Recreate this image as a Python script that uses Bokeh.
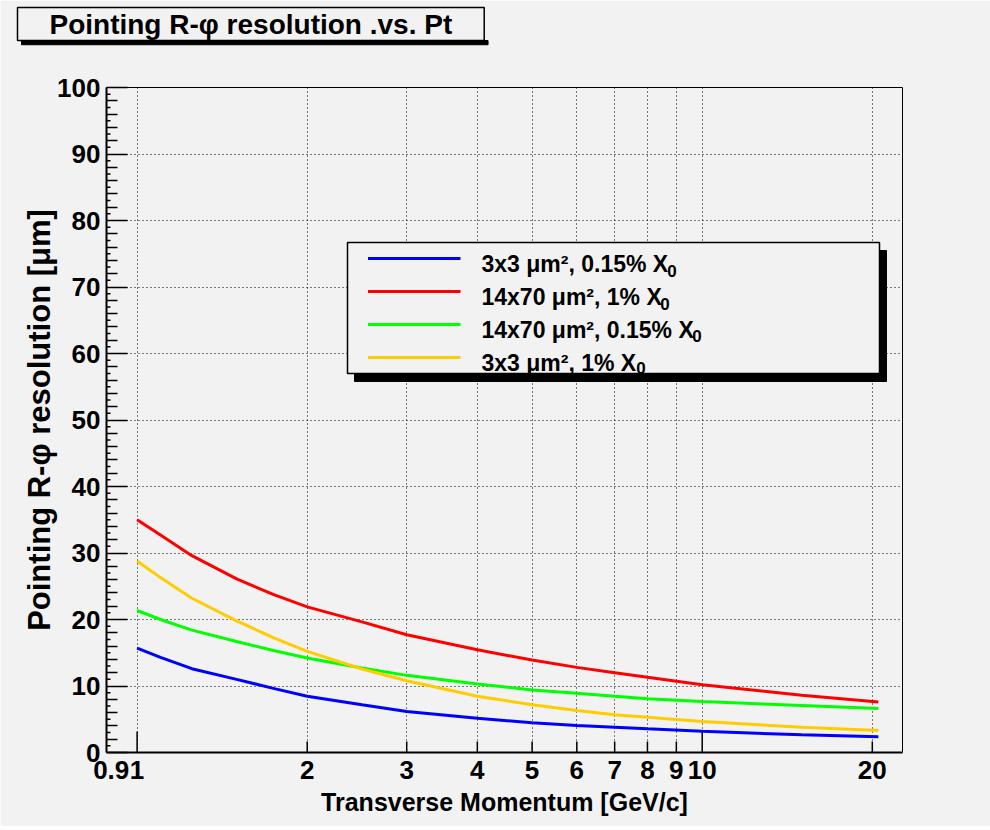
import math
from bokeh.plotting import figure
from bokeh.models import FixedTicker, Label, BoxAnnotation, ColumnDataSource, Title
from bokeh.embed import file_html
from bokeh.resources import INLINE

# ---------------- data ----------------
pt = [1.0, 1.1, 1.25, 1.5, 1.75, 2.0, 2.5, 3.0, 4.0, 5.0, 6.0, 7.0, 8.0, 10.0, 15.0, 20.5]
res_blue = [15.7, 14.3, 12.6, 11.0, 9.6, 8.47, 7.17, 6.17, 5.16, 4.46, 4.06, 3.8, 3.56, 3.2, 2.66, 2.35]
res_red = [35.0, 32.7, 29.6, 26.1, 23.7, 21.9, 19.65, 17.7, 15.45, 13.9, 12.8, 12.0, 11.3, 10.2, 8.6, 7.6]
res_green = [21.35, 20.0, 18.4, 16.7, 15.3, 14.2, 12.7, 11.6, 10.3, 9.4, 8.9, 8.45, 8.1, 7.67, 7.07, 6.6]
res_yellow = [28.8, 26.3, 23.2, 19.8, 17.2, 15.2, 12.55, 10.8, 8.47, 7.17, 6.3, 5.67, 5.3, 4.66, 3.8, 3.3]

series_names = ["3x3 \u03bcm\u00b2, 0.15% X", "14x70 \u03bcm\u00b2, 1% X",
                "14x70 \u03bcm\u00b2, 0.15% X", "3x3 \u03bcm\u00b2, 1% X"]
series_values = [res_blue, res_red, res_green, res_yellow]
series_colors = ["#0000ff", "#ff0000", "#00ff00", "#ffcc00"]

x_tick_values = [0.9, 1, 2, 3, 4, 5, 6, 7, 8, 9, 10, 20]
x_tick_labels = ["0.9", "1", "2", "3", "4", "5", "6", "7", "8", "9", "10", "20"]
x_long_ticks = [1, 10]
x_short_ticks = [2, 3, 4, 5, 6, 7, 8, 9, 20]
y_tick_values = [0, 10, 20, 30, 40, 50, 60, 70, 80, 90, 100]
y_minor_values = [v for v in range(2, 100, 2) if v % 10 != 0]
y_tiny_values = list(range(1, 100, 2))

title_text = "Pointing R-\u03c6 resolution .vs. Pt"
x_title = "Transverse Momentum [GeV/c]"
y_title = "Pointing R-\u03c6 resolution [\u03bcm]"

# ---------------- layout (page pixels; the canvas starts at the page corner) ----------------
W, H = 990, 826
FL, FR, FT, FB = 106, 902, 87, 752      # frame edges
X1PX, DEC = 136.6, 565.1                # x of pt=1, pixels per decade

def X(px):
    return 10 ** ((px - X1PX) / DEC)

def Y(py):
    return (FB - py) * 100.0 / (FB - FT)

BG = "#f2f2f2"
SANS = "Liberation Sans"

p = figure(width=W, height=H, x_axis_type="log", title=title_text,
           x_range=(X(FL), X(FR)), y_range=(0, 100),
           output_backend="svg", toolbar_location=None,
           min_border_left=FL, min_border_right=W - FR,
           min_border_top=FT, min_border_bottom=H - FB)
p.background_fill_color = BG
p.border_fill_color = BG
p.outline_line_color = "black"
p.outline_line_width = 1

def set_pad(obj, l, r, t_, b):
    try:
        obj.padding = dict(left=l, right=r, top=t_, bottom=b)
    except Exception:
        obj.padding = (t_, l)

# invisible spacer between the frame and the title box
p.add_layout(Title(text=" ", text_font_size="10px", standoff=28), "above")
# thin black bar under the title box (its drop shadow)
bar = Title(text=" ", text_font_size="2px", standoff=0, align="left", vertical_align="top",
            offset=21 - FL, background_fill_color="black", border_line_color="black")
set_pad(bar, 233, 233, 1, 1)
p.add_layout(bar, "above")

# title box
t = p.title
t.align = "left"
t.vertical_align = "bottom"
t.offset = 17 - FL
t.standoff = 0
t.text_font = SANS
t.text_font_style = "bold"
t.text_font_size = "28px"
t.text_color = "black"
t.background_fill_color = BG
t.border_line_color = "black"
t.border_line_width = 1.5
set_pad(t, 32, 32, 1, 1)

# grids
p.xgrid.ticker = FixedTicker(ticks=x_long_ticks + x_short_ticks)
p.ygrid.ticker = FixedTicker(ticks=y_tick_values[1:-1])
for g in (p.xgrid, p.ygrid):
    g.grid_line_color = "black"
    g.grid_line_dash = "1 3"
    g.grid_line_width = 1

# x axis (labels only; tick marks drawn below)
xa = p.xaxis[0]
xa.ticker = FixedTicker(ticks=x_tick_values, minor_ticks=[])
xa.major_label_overrides = {v: l for v, l in zip(x_tick_values, x_tick_labels)}
xa.major_tick_in = 0
xa.major_tick_out = 0
xa.minor_tick_in = 0
xa.minor_tick_out = 0
xa.axis_line_width = 2
xa.major_label_standoff = 8
xa.major_label_text_font = SANS
xa.major_label_text_font_style = "bold"
xa.major_label_text_font_size = "26px"
xa.major_label_text_color = "black"
xa.axis_label = x_title
xa.axis_label_standoff = 6
xa.axis_label_text_font = SANS
xa.axis_label_text_font_style = "bold"
xa.axis_label_text_font_size = "25px"
xa.axis_label_text_color = "black"

ya = p.yaxis[0]
ya.ticker = FixedTicker(ticks=y_tick_values, minor_ticks=y_minor_values)
ya.major_tick_in = 21
ya.major_tick_out = 0
ya.minor_tick_in = 11
ya.minor_tick_out = 0
ya.axis_line_width = 2
ya.major_tick_line_width = 1.5
ya.minor_tick_line_width = 1.5
ya.major_label_standoff = 6
ya.major_label_text_font = SANS
ya.major_label_text_font_style = "bold"
ya.major_label_text_font_size = "26px"
ya.major_label_text_color = "black"
ya.axis_label = y_title
ya.axis_label_standoff = -3
ya.axis_label_text_font = SANS
ya.axis_label_text_font_style = "bold"
ya.axis_label_text_font_size = "31px"
ya.axis_label_text_color = "black"

# tick marks on x axis
long_len = 21 * 100.0 / (FB - FT)
short_len = 11 * 100.0 / (FB - FT)
p.segment(x0=x_long_ticks, x1=x_long_ticks, y0=0, y1=long_len, line_color="black", line_width=1.5)
p.segment(x0=x_short_ticks, x1=x_short_ticks, y0=0, y1=short_len, line_color="black", line_width=1.5)
# tiny y ticks
p.segment(x0=X(FL), x1=X(FL + 4), y0=y_tiny_values, y1=y_tiny_values, line_color="black", line_width=1.5)

# curves
for vals, col in zip(series_values, series_colors):
    src = ColumnDataSource(dict(x=pt, y=vals))
    p.line("x", "y", source=src, line_color=col, line_width=3)

# legend box with shadow
p.add_layout(BoxAnnotation(left=X(354), right=X(886), top=Y(250), bottom=Y(381),
                           fill_color="black", fill_alpha=1, line_color="black", line_alpha=1))
p.add_layout(BoxAnnotation(left=X(347), right=X(879), top=Y(242), bottom=Y(373),
                           fill_color=BG, fill_alpha=1, line_color="black", line_width=1.5, line_alpha=1))
leg_line_y = [258, 291, 324, 357]
leg_sub_xy = [(671.5, 270), (664.5, 303.5), (696.5, 335.5), (640.5, 367.5)]
p.segment(x0=[X(367.5)] * 4, x1=[X(460)] * 4, y0=[Y(v) for v in leg_line_y],
          y1=[Y(v) for v in leg_line_y], line_color=series_colors, line_width=3, level="overlay")
for name, ly, (sx, sy) in zip(series_names, leg_line_y, leg_sub_xy):
    p.add_layout(Label(x=X(481), y=Y(ly + 5), text=name, text_align="left",
                       text_baseline="alphabetic", text_font=SANS,
                       text_font_style="bold", text_font_size="23px", text_color="black",
                       level="overlay"))
    p.add_layout(Label(x=X(sx), y=Y(sy), text="0", text_align="center",
                       text_baseline="middle", text_font=SANS,
                       text_font_style="bold", text_font_size="17px", text_color="black",
                       level="overlay"))

open("out.html", "w").write(file_html(p, INLINE))
